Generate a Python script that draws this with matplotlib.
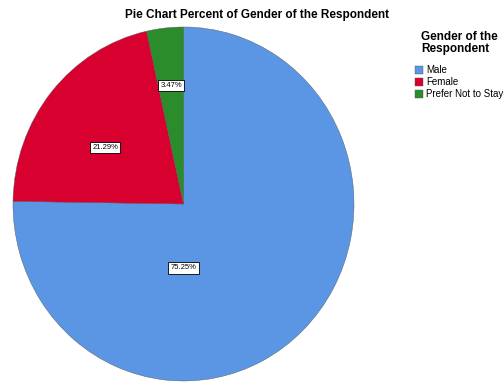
import matplotlib
matplotlib.use("Agg")
import matplotlib.pyplot as plt

plt.rcParams['font.family'] = ['Liberation Sans', 'DejaVu Sans']

genders = ["Male", "Female", "Prefer Not to Stay"]
percents = [75.25, 21.29, 3.47]
colors = ["#5A96E3", "#D7002F", "#2A8C2A"]

fig = plt.figure(figsize=(5.04, 3.85), dpi=100)
ax = fig.add_axes([13 / 504, 4 / 385, 341 / 504, 354 / 385])

# show the reported percentages as-is (they add up to 100.01)
pct_labels = iter(percents)
wedges, texts, autotexts = ax.pie(
    percents, colors=colors, startangle=90, counterclock=False,
    autopct=lambda p: "%.2f%%" % next(pct_labels), pctdistance=0.63,
    wedgeprops=dict(linewidth=0.3, edgecolor="#555555"),
    textprops=dict(fontsize=5.5, color="black"))
ax.set_aspect("auto")
ax.set_xlim(-1, 1)
ax.set_ylim(-1, 1)

# SPSS-style label placement inside each slice
label_pos = [(0.0, -0.36), (-0.46, 0.32), (-0.073, 0.67)]
for t, pos in zip(autotexts, label_pos):
    t.set_position(pos)
    t.set_bbox(dict(boxstyle="square,pad=0.3", facecolor="white",
                    edgecolor="black", linewidth=0.6))

fig.text(0.51, 0.962, "Pie Chart Percent of Gender of the Respondent",
         ha="center", va="center", fontsize=8.5, fontweight="bold")

leg = fig.legend(wedges, genders, loc="upper left",
                 bbox_to_anchor=(415 / 504, 1 - 31 / 385),
                 frameon=False, fontsize=7, handlelength=0.85,
                 handleheight=0.85, handletextpad=0.3, labelspacing=0.22,
                 borderaxespad=0, borderpad=0,
                 title="Gender of the\nRespondent",
                 title_fontproperties=dict(size=8.5, weight="bold"))
leg._legend_box.align = "center"
leg._legend_box.sep = 7
leg.get_title().set_linespacing(1.05)

fig.savefig("out.png", dpi=100)
